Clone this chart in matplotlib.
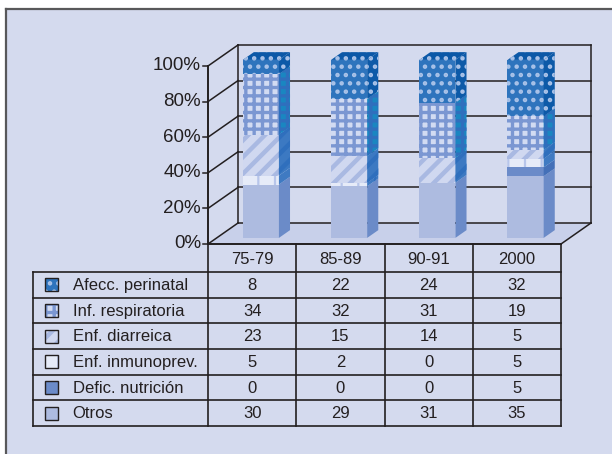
import matplotlib
matplotlib.use('Agg')
import matplotlib.pyplot as plt
from matplotlib.patches import Polygon, Rectangle
from matplotlib.lines import Line2D

plt.rcParams['font.family'] = ['Liberation Sans', 'DejaVu Sans']

# data
categories = ['75-79', '85-89', '90-91', '2000']
series = ['Afecc. perinatal', 'Inf. respiratoria', 'Enf. diarreica',
          'Enf. inmunoprev.', 'Defic. nutrición', 'Otros']
perinatal = [8, 22, 24, 32]
respiratoria = [34, 32, 31, 19]
diarreica = [23, 15, 14, 5]
inmunoprev = [5, 2, 0, 5]
nutricion = [0, 0, 0, 5]
otros = [30, 29, 31, 35]
yticks = [0, 20, 40, 60, 80, 100]

table_values = [perinatal, respiratoria, diarreica, inmunoprev, nutricion, otros]
stack_order = [otros, nutricion, inmunoprev, diarreica, respiratoria, perinatal]

# styles (bottom -> top)
styles = [
    dict(front='#adbbe0', side='#6b8bc8', hc=None, hatch=None, hlw=1),
    dict(front='#6b8bc9', side='#4470b8', hc=None, hatch=None, hlw=1),
    dict(front='#e6ebf8', side='#3f7ac2', hc='#b7c5ea', hatch='|', hlw=1.6),
    dict(front='#d0d8f0', side='#3c79c2', hc='#a9b9e2', hatch='//', hlw=3.2),
    dict(front='#d2dbf2', side='#1a86c1', hc='#7b97d2', hatch='++', hlw=2.4),
    dict(front='#2e74bd', side='#0d5aa8', hc='#a9c2e8', hatch='..', hlw=2.0),
]
legend_styles = styles[::-1]

DARK = '#231f20'
BG = '#d4daee'
DX, DY = 0.34, 11.8   # oblique depth offset (x units, percent)


def proj(x, y, d):
    return (x + d * DX, y + d * DY)


fig = plt.figure(figsize=(6.12, 4.54), dpi=100)
fig.patch.set_facecolor('white')
fig.patches.append(Rectangle((6 / 612, 0), 1, 1 - 9 / 454, transform=fig.transFigure,
                             facecolor=BG, edgecolor='none', zorder=-10))
fig.lines.append(Line2D([6 / 612, 1], [1 - 9 / 454] * 2, transform=fig.transFigure,
                        color='#58585a', lw=1.6, zorder=-5))
fig.lines.append(Line2D([6 / 612] * 2, [0, 1 - 9 / 454], transform=fig.transFigure,
                        color='#58585a', lw=1.6, zorder=-5))

ax = fig.add_axes([208 / 612, (454 - 244) / 454, 353 / 612, 178 / 454])
ax.set_xlim(0, 4)
ax.set_ylim(0, 100)
ax.axis('off')

lw = 1.1
# floor
ax.add_patch(Polygon([proj(0, 0, 0), proj(4, 0, 0), proj(4, 0, 1), proj(0, 0, 1)],
                     closed=True, facecolor='#c8d0ea', edgecolor='none', clip_on=False, zorder=1))
# walls and gridlines
for t in yticks:
    ax.plot(*zip(proj(0, t, 1), proj(4, t, 1)), color=DARK, lw=lw, clip_on=False, zorder=2)
    ax.plot(*zip(proj(0, t, 0), proj(0, t, 1)), color=DARK, lw=lw, clip_on=False, zorder=2)
    ax.plot([-0.06, 0], [t, t], color=DARK, lw=lw, clip_on=False, zorder=2)
    ax.text(-0.08, t, f'{t}%', ha='right', va='center', fontsize=13.5, color=DARK)
ax.plot(*zip(proj(0, 0, 1), proj(0, 100, 1)), color=DARK, lw=lw, clip_on=False, zorder=2)
ax.plot(*zip(proj(4, 0, 1), proj(4, 100, 1)), color=DARK, lw=lw, clip_on=False, zorder=2)
ax.plot([0, 0], [0, 100], color=DARK, lw=lw + 0.3, clip_on=False, zorder=2)
ax.plot([0, 4], [0, 0], color=DARK, lw=lw + 0.3, clip_on=False, zorder=6)
ax.plot(*zip(proj(4, 0, 0), proj(4, 0, 1)), color=DARK, lw=lw, clip_on=False, zorder=2)


def add_face(target, patch_cls, args, color, st, hc, z, **kw):
    with plt.rc_context({'hatch.linewidth': st['hlw']}):
        p = patch_cls(*args, facecolor=color,
                      edgecolor=hc if st['hatch'] else 'none', lw=0,
                      hatch=st['hatch'], zorder=z, **kw)
    target.add_patch(p)


d0, d1 = 0.29, 0.66
hw = 0.205
for i in range(len(categories)):
    total = sum(s[i] for s in stack_order)
    x0, x1 = i + 0.5 - hw, i + 0.5 + hw
    base = 0.0
    for k, s in enumerate(stack_order):
        h = s[i] * 100.0 / total
        if h <= 0:
            continue
        st = styles[k]
        y0, y1 = base, base + h
        add_face(ax, Polygon,
                 ([proj(x0, y0, d0), proj(x1, y0, d0), proj(x1, y1, d0), proj(x0, y1, d0)],),
                 st['front'], st, st['hc'], 4, clip_on=False)
        side_hc = st['hc'] if k == 5 else '#2f6fbd'
        add_face(ax, Polygon,
                 ([proj(x1, y0, d0), proj(x1, y0, d1), proj(x1, y1, d1), proj(x1, y1, d0)],),
                 st['side'], st, side_hc, 4, clip_on=False)
        base = y1
    add_face(ax, Polygon,
             ([proj(x0, 100, d0), proj(x1, 100, d0), proj(x1, 100, d1), proj(x0, 100, d1)],),
             '#0b58a7', styles[5], styles[5]['hc'], 4, clip_on=False)

# table
tx = fig.add_axes([33 / 612, (454 - 426) / 454, 528 / 612, 182 / 454])
left = -175 / 88.25
tx.set_xlim(left, 4)
hdr = 28 / 25.7
tx.set_ylim(hdr + 6, 0)
tx.axis('off')

for r in range(7):
    tx.plot([left, 4], [hdr + r] * 2, color=DARK, lw=1.2, clip_on=False)
tx.plot([left, left], [hdr, hdr + 6], color=DARK, lw=1.2, clip_on=False)
for c in range(5):
    tx.plot([c, c], [0, hdr + 6], color=DARK, lw=1.2, clip_on=False)
for c, cat in enumerate(categories):
    tx.text(c + 0.5, hdr / 2 + 0.05, cat, ha='center', va='center', fontsize=12, color=DARK)
for r, (name, vals) in enumerate(zip(series, table_values)):
    yc = hdr + r + 0.5
    st = legend_styles[r]
    add_face(tx, Rectangle, ((left + 0.14, yc - 0.25), 0.145, 0.5),
             st['front'], st, st['hc'], 2)
    tx.add_patch(Rectangle((left + 0.14, yc - 0.25), 0.145, 0.5, facecolor='none',
                           edgecolor=DARK, lw=1.0, zorder=4))
    tx.text(left + 0.45, yc + 0.03, name, ha='left', va='center', fontsize=12, color=DARK)
    for c, v in enumerate(vals):
        tx.text(c + 0.5, yc + 0.03, str(v), ha='center', va='center', fontsize=12, color=DARK)

fig.savefig('out.png', dpi=100)
